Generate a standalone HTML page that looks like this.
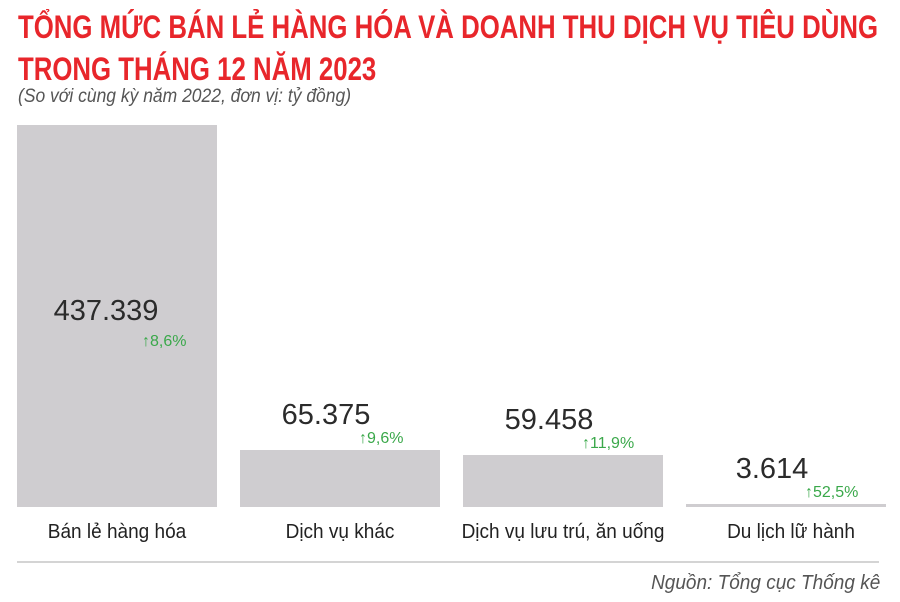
<!DOCTYPE html>
<html><head><meta charset="utf-8"><style>
body{margin:0;width:900px;height:602px;background:#fff;overflow:hidden;font-family:"Liberation Sans",sans-serif;position:relative}
.t{position:absolute;left:18px;color:#e8262b;font-weight:bold;font-size:32px;line-height:38px;white-space:nowrap;transform-origin:0 0}
.sub{position:absolute;left:18px;top:86px;font-style:italic;color:#555;font-size:19px;transform:scaleX(0.92);transform-origin:0 0;white-space:nowrap}
.v{position:absolute;font-size:29px;color:#2b2b2b;transform:translateX(-50%)}
.g{position:absolute;font-size:16px;color:#3aa84a}
.lab{position:absolute;top:521px;font-size:20px;color:#222;transform:translateX(-50%) scaleX(0.95);white-space:nowrap}
</style></head><body>
<div class="t" id="t1" style="top:8px">TỔNG MỨC BÁN LẺ HÀNG HÓA VÀ DOANH THU DỊCH VỤ TIÊU DÙNG</div>
<div class="t" id="t2" style="top:50px">TRONG THÁNG 12 NĂM 2023</div>
<div class="sub">(So với cùng kỳ năm 2022, đơn vị: tỷ đồng)</div>
<div id="chart"></div>
<div style="position:absolute;left:17px;top:561px;width:862px;height:2px;background:#d4d4d4"></div>
<div style="position:absolute;right:20px;top:572px;font-style:italic;color:#555;font-size:20px;transform:scaleX(0.95);transform-origin:100% 0;white-space:nowrap">Nguồn: Tổng cục Thống kê</div>
<script>
const categories=["Bán lẻ hàng hóa","Dịch vụ khác","Dịch vụ lưu trú, ăn uống","Du lịch lữ hành"];
const values=[437339,65375,59458,3614];
const valueLabels=["437.339","65.375","59.458","3.614"];
const growthLabels=["8,6%","9,6%","11,9%","52,5%"];
const base=507, maxH=382, maxV=437339;
function y(v){return base-v/maxV*maxH;}
function x(i){return 17+i*223;}
const t1=document.getElementById('t1'),t2=document.getElementById('t2');
const s=860/t1.getBoundingClientRect().width;
t1.style.transform='scaleX('+s+')';t2.style.transform='scaleX('+s+')';
const c=document.getElementById('chart');
categories.forEach((cat,i)=>{
  const top=y(values[i]);const h=Math.max(base-top,3);
  const b=document.createElement('div');
  
  
  b.style.cssText=`position:absolute;left:${x(i)}px;top:${base-h}px;width:200px;height:${h}px;background:#cfcdd0`;
  c.appendChild(b);
  let vx,vy;
  if(i===0){vx=x(i)+89;vy=top+170;}else{vx=x(i)+86;vy=top-51;}
  const v=document.createElement('div');
  
  
  v.className='v';v.style.left=vx+'px';v.style.top=vy+'px';v.textContent=valueLabels[i];
  c.appendChild(v);
  const g=document.createElement('div');
  
  
  g.className='g';g.style.left=(vx+(i===0?36:33))+'px';g.style.top=(vy+(i===0?38:31))+'px';g.textContent='↑'+growthLabels[i];
  c.appendChild(g);
  const l=document.createElement('div');
  
  
  l.className='lab';l.style.left=(i===0?117:x(i)+(i===3?105:100))+'px';l.textContent=cat;
  c.appendChild(l);
});
</script>
</body></html>
